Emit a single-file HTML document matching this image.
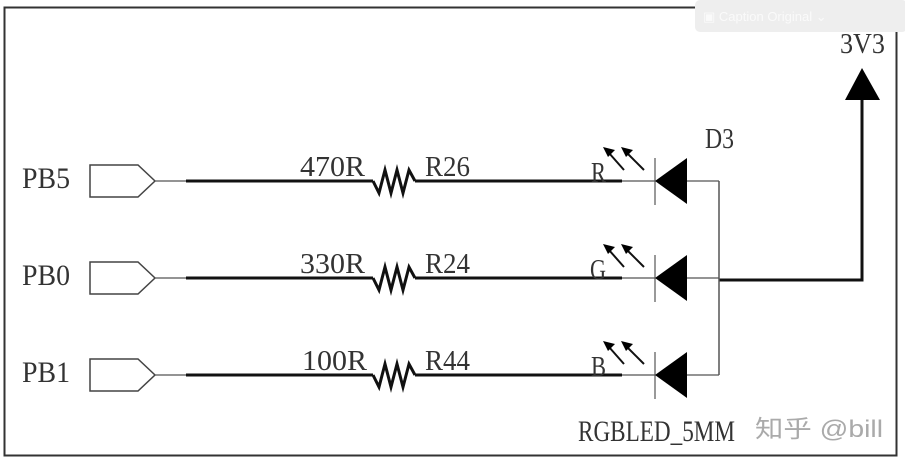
<!DOCTYPE html>
<html><head><meta charset="utf-8"><style>
body{margin:0;background:#fff;width:905px;height:463px;overflow:hidden}
svg text{font-family:"Liberation Serif",serif;fill:#333}
</style></head><body>
<svg width="905" height="463" viewBox="0 0 905 463" xmlns="http://www.w3.org/2000/svg">
<rect x="4.5" y="7.5" width="892" height="448" fill="none" stroke="#333" stroke-width="2"/>
<rect x="695" y="0" width="212" height="32" rx="5" fill="#eeeeee"/>
<text x="703" y="21" font-size="13" style="fill:#fafafa;font-family:'Liberation Sans',sans-serif">▣   Caption   Original   ⌄</text>
<text x="840" y="53" font-size="29" textLength="45" lengthAdjust="spacingAndGlyphs">3V3</text>
<polygon points="862,68 845,100 880,100" fill="#000"/>
<polyline points="862,100 862,280 719,280" fill="none" stroke="#111" stroke-width="3"/>
<line x1="719" y1="181" x2="719" y2="375" stroke="#555" stroke-width="1.5"/>
<text x="705" y="148" font-size="29" textLength="29" lengthAdjust="spacingAndGlyphs">D3</text>
<g>
<g transform="translate(0,0)">
<text x="22" y="188" font-size="30" textLength="48" lengthAdjust="spacingAndGlyphs">PB5</text>
<polygon points="90,165 138,165 155,181 138,197 90,197" fill="none" stroke="#444" stroke-width="1.5"/>
<line x1="155" y1="181" x2="186" y2="181" stroke="#555" stroke-width="1.2"/>
<line x1="186" y1="181" x2="373" y2="181" stroke="#111" stroke-width="3"/>
<polyline points="373,181 379,193 385,170 391,193 397,170 403,193 409,170 415,181" fill="none" stroke="#111" stroke-width="3"/>
<line x1="415" y1="181" x2="622" y2="181" stroke="#111" stroke-width="3"/>
<line x1="622" y1="181" x2="655" y2="181" stroke="#555" stroke-width="1.2"/>
<text x="300" y="176" font-size="29" textLength="65" lengthAdjust="spacingAndGlyphs">470R</text>
<text x="425" y="176" font-size="29" textLength="45" lengthAdjust="spacingAndGlyphs">R26</text>
<text x="591" y="182" font-size="28" textLength="15" lengthAdjust="spacingAndGlyphs">R</text>
</g>
<g transform="translate(0,97)">
<text x="22" y="188" font-size="30" textLength="48" lengthAdjust="spacingAndGlyphs">PB0</text>
<polygon points="90,165 138,165 155,181 138,197 90,197" fill="none" stroke="#444" stroke-width="1.5"/>
<line x1="155" y1="181" x2="186" y2="181" stroke="#555" stroke-width="1.2"/>
<line x1="186" y1="181" x2="373" y2="181" stroke="#111" stroke-width="3"/>
<polyline points="373,181 379,193 385,170 391,193 397,170 403,193 409,170 415,181" fill="none" stroke="#111" stroke-width="3"/>
<line x1="415" y1="181" x2="622" y2="181" stroke="#111" stroke-width="3"/>
<line x1="622" y1="181" x2="655" y2="181" stroke="#555" stroke-width="1.2"/>
<text x="300" y="176" font-size="29" textLength="65" lengthAdjust="spacingAndGlyphs">330R</text>
<text x="425" y="176" font-size="29" textLength="45" lengthAdjust="spacingAndGlyphs">R24</text>
<text x="590" y="182" font-size="28" textLength="16" lengthAdjust="spacingAndGlyphs">G</text>
</g>
<g transform="translate(0,194)">
<text x="22" y="188" font-size="30" textLength="48" lengthAdjust="spacingAndGlyphs">PB1</text>
<polygon points="90,165 138,165 155,181 138,197 90,197" fill="none" stroke="#444" stroke-width="1.5"/>
<line x1="155" y1="181" x2="186" y2="181" stroke="#555" stroke-width="1.2"/>
<line x1="186" y1="181" x2="373" y2="181" stroke="#111" stroke-width="3"/>
<polyline points="373,181 379,193 385,170 391,193 397,170 403,193 409,170 415,181" fill="none" stroke="#111" stroke-width="3"/>
<line x1="415" y1="181" x2="622" y2="181" stroke="#111" stroke-width="3"/>
<line x1="622" y1="181" x2="655" y2="181" stroke="#555" stroke-width="1.2"/>
<text x="302" y="176" font-size="29" textLength="65" lengthAdjust="spacingAndGlyphs">100R</text>
<text x="425" y="176" font-size="29" textLength="45" lengthAdjust="spacingAndGlyphs">R44</text>
<text x="591" y="182" font-size="28" textLength="15" lengthAdjust="spacingAndGlyphs">B</text>
</g>
</g>
<g>
<g transform="translate(0,0)">
<line x1="655" y1="158" x2="655" y2="205" stroke="#555" stroke-width="1.2"/>
<polygon points="655,181 687,158 687,204" fill="#000"/>
<line x1="687" y1="181" x2="719" y2="181" stroke="#555" stroke-width="1.2"/>
<g stroke="#111" stroke-width="2"><line x1="624" y1="170" x2="609" y2="153"/><line x1="644" y1="170" x2="627" y2="153"/></g>
<polygon points="603,147 615,150 608,157" fill="#000"/><polygon points="621,147 633,150 626,157" fill="#000"/>
</g>
<g transform="translate(0,97)">
<line x1="655" y1="158" x2="655" y2="205" stroke="#555" stroke-width="1.2"/>
<polygon points="655,181 687,158 687,204" fill="#000"/>
<line x1="687" y1="181" x2="719" y2="181" stroke="#555" stroke-width="1.2"/>
<g stroke="#111" stroke-width="2"><line x1="624" y1="170" x2="609" y2="153"/><line x1="644" y1="170" x2="627" y2="153"/></g>
<polygon points="603,147 615,150 608,157" fill="#000"/><polygon points="621,147 633,150 626,157" fill="#000"/>
</g>
<g transform="translate(0,194)">
<line x1="655" y1="158" x2="655" y2="205" stroke="#555" stroke-width="1.2"/>
<polygon points="655,181 687,158 687,204" fill="#000"/>
<line x1="687" y1="181" x2="719" y2="181" stroke="#555" stroke-width="1.2"/>
<g stroke="#111" stroke-width="2"><line x1="624" y1="170" x2="609" y2="153"/><line x1="644" y1="170" x2="627" y2="153"/></g>
<polygon points="603,147 615,150 608,157" fill="#000"/><polygon points="621,147 633,150 626,157" fill="#000"/>
</g>
</g>
<text x="578" y="441" font-size="30" textLength="157" lengthAdjust="spacingAndGlyphs">RGBLED_5MM</text>
<text x="755" y="437" font-size="24" textLength="128" lengthAdjust="spacingAndGlyphs" style="fill:#aaa;font-family:'Liberation Sans','Noto Sans CJK SC',sans-serif">知乎 @bill</text>
</svg>
</body></html>
